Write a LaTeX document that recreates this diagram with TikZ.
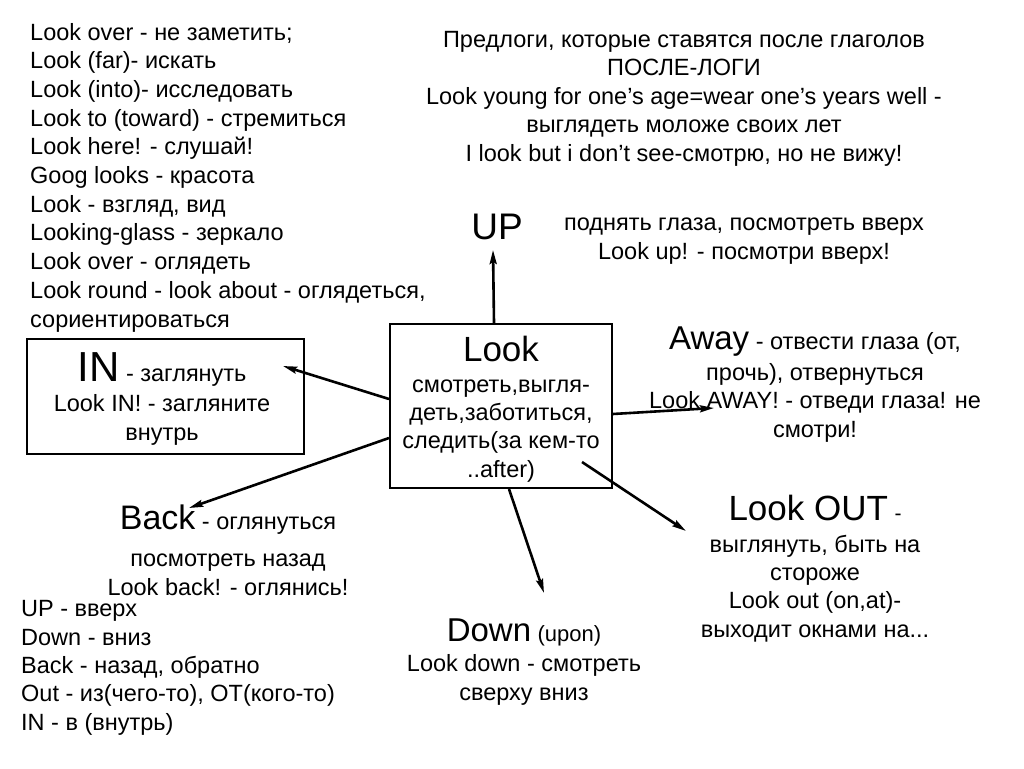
\documentclass[tikz,border=0pt]{standalone}
\usepackage{fontspec}
\setmainfont{Liberation Sans}
\usetikzlibrary{arrows.meta}
\begin{document}
\begin{tikzpicture}[x=1pt,y=-1pt,
  body/.style={inner sep=0pt, font=\fontsize{23.5}{28.3}\selectfont, align=center, anchor=base},
  lst/.style={inner sep=0pt, font=\fontsize{23.5}{28.7}\selectfont, align=left, anchor=base west},
  box/.style={draw, line width=2pt},
  arr/.style={line width=2.6pt, -{Stealth[length=14pt,width=7pt,inset=2pt]}}]
\useasboundingbox[fill=white] (0,0) rectangle (1024,768);

% top-left list
\node[lst] (list1) at (30,327) {Look over - не заметить;\\Look (far)- искать\\Look (into)- исследовать\\Look to (toward) - стремиться\\Look here! - слушай!\\Goog looks - красота\\Look - взгляд, вид\\Looking-glass - зеркало\\Look over - оглядеть\\Look round - look about - оглядеться,\\сориентироваться};

% top-right block
\node[body, font=\fontsize{23.5}{28.5}\selectfont] (title) at (684,161) {Предлоги, которые ставятся после глаголов\\ПОСЛЕ-ЛОГИ\\Look young for one’s age=wear one’s years well -\\выглядеть моложе своих лет\\I look but i don’t see-смотрю, но не вижу!};

% UP
\node[body, font=\fontsize{37}{37}\selectfont] (up) at (497,239) {UP};
\node[body] (uptext) at (744,259) {поднять глаза, посмотреть вверх\\Look up! - посмотри вверх!};

% center box
\node[box, minimum width=222pt, minimum height=164pt, anchor=north west] (look) at (389,323) {};
\node[body] (looktext) at (501,477) {{\fontsize{35}{35}\selectfont Look}\\[2.5pt]смотреть,выгля-\\деть,заботиться,\\следить(за кем-то\\..after)};

% IN box
\node[box, minimum width=277pt, minimum height=115pt, anchor=north west] (in) at (26,338) {};
\node[body] (intext) at (162,440) {{\fontsize{42}{42}\selectfont IN} - заглянуть\\[1.5pt]Look IN! - загляните\\внутрь};

% Away
\node[body] (away) at (815,437) {{\fontsize{33}{33}\selectfont Away} - отвести глаза (от,\\[2.5pt]прочь), отвернуться\\Look AWAY! - отведи глаза! не\\смотри!};

% Back
\node[body] (back) at (228,595) {{\fontsize{34}{34}\selectfont Back} - оглянуться\\[8.5pt]посмотреть назад\\Look back! - оглянись!};

% Look OUT
\node[body] (out) at (815,637) {{\fontsize{35}{35}\selectfont Look OUT} {\fontsize{21}{21}\selectfont -}\\[3.5pt]выглянуть, быть на\\стороже\\Look out (on,at)-\\выходит окнами на...};

% Down
\node[body] (down) at (524,700) {{\fontsize{33}{33}\selectfont Down} {\fontsize{22}{22}\selectfont (upon)}\\[1.5pt]Look down - смотреть\\сверху вниз};

% bottom-left list
\node[lst, font=\fontsize{23.5}{28.3}\selectfont] (list2) at (21,730) {UP - вверх\\Down - вниз\\Back - назад, обратно\\Out - из(чего-то), ОТ(кого-то)\\IN - в (внутрь)};

% arrow tips
\coordinate (upTip) at (493,250);
\coordinate (inTip) at (283,366);
\coordinate (awayTip) at (714,408);
\coordinate (backTip) at (189,508);
\coordinate (downTip) at (544,593);
\coordinate (outTip) at (686,531);

\draw[arr] ([xshift=-7pt]look.north) -- (upTip);
\draw[arr] ([yshift=7pt]look.west) -- (inTip);
\draw[arr] ([yshift=-8pt]look.east) -- (awayTip);
\draw[arr] ([yshift=-32pt]look.west) -- (backTip);
\draw[arr] ([xshift=8pt]look.south) -- (downTip);
\draw[arr] ([xshift=-31pt,yshift=-56pt]look.east) -- (outTip);
\end{tikzpicture}
\end{document}
